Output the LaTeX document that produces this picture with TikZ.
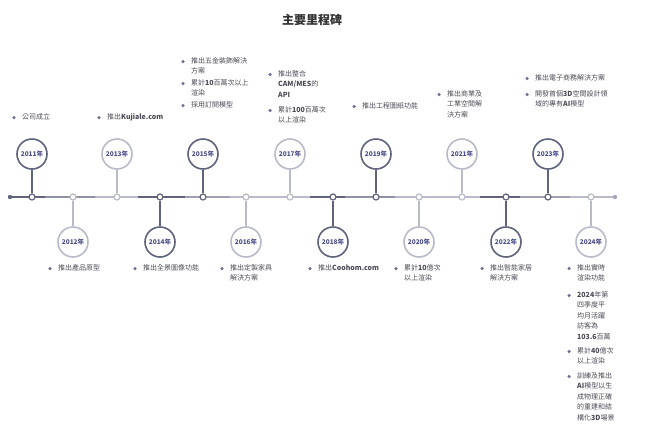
\documentclass[tikz,border=0pt]{standalone}
\usepackage{fontspec}
\setmainfont{Noto Sans CJK TC}
\begin{document}
\begin{tikzpicture}[x=1pt,y=-1pt,
  dk/.style={draw=colD,line width=1.6pt},
  lt/.style={draw=colL,line width=1.6pt},
  yr/.style={circle,minimum size=30pt,inner sep=0pt,fill=white,font=\fontsize{6.5}{7}\selectfont\bfseries,text=colY},
  dot/.style={circle,minimum size=6pt,inner sep=0pt,fill=white,line width=1.2pt},
  txt/.style={anchor=north west,inner sep=0pt,align=left,text=colT,font=\fontsize{7}{10.5}\selectfont},
  bul/.style={circle,fill=colB,minimum size=3.5pt,inner sep=0pt}]
\definecolor{colD}{HTML}{5F637C}
\definecolor{colL}{HTML}{B9BBC9}
\definecolor{colY}{HTML}{4B4F88}
\definecolor{colT}{HTML}{4A4A55}
\definecolor{colB}{HTML}{6C6F92}
\useasboundingbox (0,0) rectangle (660,437);
\node[font=\fontsize{12}{14}\selectfont\bfseries,text=black!80] (title) at (312,20) {主要里程碑};
% timeline
\coordinate (L0) at (10,197); \coordinate (L1) at (615,197);
\draw[line width=2pt,draw=colL] (L0) -- (L1);
\foreach \a/\b/\c in {10/45/colD,45/95/colD!70,138/185/colD,185/230/colD!60,310/345/colD,345/395/colD!70,480/520/colD,520/570/colD!60}
  \draw[line width=2pt,draw=\c] (\a,197) -- (\b,197);
\fill[colD] (L0) circle (2.2pt);
\fill[colL!80!colD] (L1) circle (2.2pt);
% milestones: name/x/up(1)/dark(1)
\foreach \n/\x/\u/\d in {a/32/1/1,b/73/0/0,c/117/1/0,d/160/0/1,e/203/1/1,f/246/0/0,g/290/1/0,h/333/0/1,i/376/1/1,j/419/0/0,k/462/1/0,l/506/0/1,m/548/1/1,n/591/0/0}{
  \ifnum\d=1 \def\cc{colD}\else\def\cc{colL}\fi
  \node[dot,draw=\cc] (p\n) at (\x,197) {};
  \ifnum\u=1 \node[yr,draw=\cc,line width=1.6pt] (y\n) at (\x,154) {};
  \else \node[yr,draw=\cc,line width=1.6pt] (y\n) at (\x,242) {};\fi
  \draw[\cc,line width=1.6pt] (y\n) -- (p\n);
}
\node[font=\fontsize{6.5}{7}\selectfont\bfseries,text=colY] (ta) at (ya) {2011年};
\node[font=\fontsize{6.5}{7}\selectfont\bfseries,text=colY] (tb) at (yb) {2012年};
\node[font=\fontsize{6.5}{7}\selectfont\bfseries,text=colY] (tc) at (yc) {2013年};
\node[font=\fontsize{6.5}{7}\selectfont\bfseries,text=colY] (td) at (yd) {2014年};
\node[font=\fontsize{6.5}{7}\selectfont\bfseries,text=colY] (te) at (ye) {2015年};
\node[font=\fontsize{6.5}{7}\selectfont\bfseries,text=colY] (tf) at (yf) {2016年};
\node[font=\fontsize{6.5}{7}\selectfont\bfseries,text=colY] (tg) at (yg) {2017年};
\node[font=\fontsize{6.5}{7}\selectfont\bfseries,text=colY] (th) at (yh) {2018年};
\node[font=\fontsize{6.5}{7}\selectfont\bfseries,text=colY] (ti) at (yi) {2019年};
\node[font=\fontsize{6.5}{7}\selectfont\bfseries,text=colY] (tj) at (yj) {2020年};
\node[font=\fontsize{6.5}{7}\selectfont\bfseries,text=colY] (tk) at (yk) {2021年};
\node[font=\fontsize{6.5}{7}\selectfont\bfseries,text=colY] (tl) at (yl) {2022年};
\node[font=\fontsize{6.5}{7}\selectfont\bfseries,text=colY] (tm) at (ym) {2023年};
\node[font=\fontsize{6.5}{7}\selectfont\bfseries,text=colY] (tn) at (yn) {2024年};
% text items: bullet at (bx, y+4), text at (tx, y)
\newcommand\itm[4]{\node[bul] (b#1) at (#2-8,#3+4.5) {}; \node[txt] (x#1) at (#2,#3) {#4};}
\itm{a1}{22}{113}{公司成立}
\itm{c1}{107}{113}{推出\textbf{Kujiale.com}}
\itm{e1}{191}{57}{推出五金裝飾解決\\方案}
\itm{e2}{191}{79}{累計\textbf{10}百萬次以上\\渲染}
\itm{e3}{191}{101}{採用訂閱模型}
\itm{g1}{278}{70}{推出整合\\\textbf{CAM/MES}的\\\textbf{API}}
\itm{g2}{278}{106}{累計\textbf{100}百萬次\\以上渲染}
\itm{i1}{362}{102}{推出工程圖紙功能}
\itm{k1}{447}{90}{推出商業及\\工業空間解\\決方案}
\itm{m1}{535}{74}{推出電子商務解決方案}
\itm{m2}{535}{90}{開發首個\textbf{3D}空間設計領\\域的專有\textbf{AI}模型}
\itm{b1}{58}{264}{推出產品原型}
\itm{d1}{143}{264}{推出全景圖像功能}
\itm{f1}{230}{264}{推出定製家具\\解決方案}
\itm{h1}{318}{264}{推出\textbf{Coohom.com}}
\itm{j1}{404}{264}{累計\textbf{10}億次\\以上渲染}
\itm{l1}{490}{264}{推出智能家居\\解決方案}
\itm{n1}{577}{264}{推出實時\\渲染功能}
\itm{n2}{577}{291}{\textbf{2024}年第\\四季度平\\均月活躍\\訪客為\\\textbf{103.6}百萬}
\itm{n3}{577}{347}{累計\textbf{40}億次\\以上渲染}
\itm{n4}{577}{372}{訓練及推出\\\textbf{AI}模型以生\\成物理正確\\的重建和結\\構化\textbf{3D}場景}
\end{tikzpicture}
\end{document}
